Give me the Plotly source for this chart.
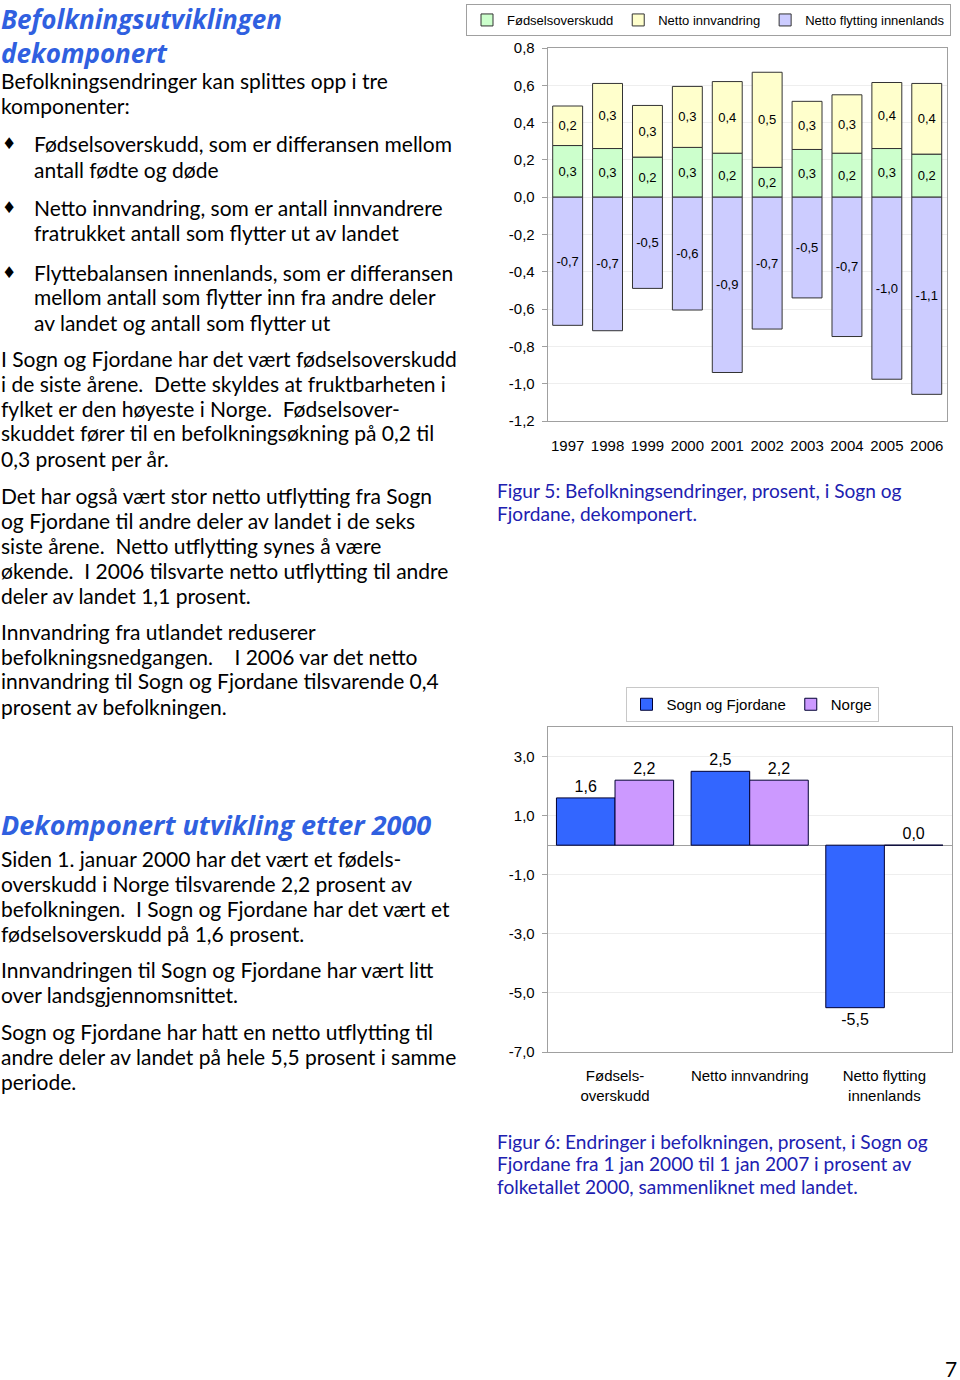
import plotly.graph_objects as go

W, H = 960, 1380


def px(x):
    return x / W


def py(y):
    return 1 - y / H


# ---------------- data: figure 5 ----------------
years = ["1997", "1998", "1999", "2000", "2001", "2002", "2003", "2004", "2005", "2006"]
fodselsoverskudd = [0.277, 0.261, 0.215, 0.267, 0.236, 0.160, 0.256, 0.236, 0.261, 0.231]
netto_innvandring = [0.212, 0.349, 0.277, 0.327, 0.384, 0.510, 0.258, 0.313, 0.354, 0.379]
netto_flytting = [-0.687, -0.716, -0.489, -0.605, -0.940, -0.707, -0.540, -0.747, -0.976, -1.057]
y1_ticks = [-1.2, -1.0, -0.8, -0.6, -0.4, -0.2, 0.0, 0.2, 0.4, 0.6, 0.8]

# ---------------- data: figure 6 ----------------
komponenter = ["Fødsels-<br>overskudd", "Netto innvandring", "Netto flytting<br>innenlands"]
sogn_og_fjordane = [1.6, 2.5, -5.5]
norge = [2.2, 2.2, 0.0]
y2_ticks = [-7, -5, -3, -1, 1, 3]


def lab(v):
    return f"{v:.1f}".replace(".", ",")


CHART_FONT = "Liberation Sans, Arial, sans-serif"
BODY_FONT = "Lato, sans-serif"
TITLE_FONT = "Open Sans, Lato, sans-serif"

fig = go.Figure()

# figure 5 bars
seg_line = dict(color="#333333", width=1)
for vals, name, col in [(fodselsoverskudd, "Fødselsoverskudd", "#CCFFCC"),
                        (netto_innvandring, "Netto innvandring", "#FFFFCC"),
                        (netto_flytting, "Netto flytting innenlands", "#CCCCFF")]:
    fig.add_trace(go.Bar(x=years, y=vals, name=name,
                         marker=dict(color=col, line=seg_line), width=0.75,
                         text=[lab(v) for v in vals], textposition="inside",
                         insidetextanchor="middle", textangle=0,
                         textfont=dict(size=13, color="black", family=CHART_FONT),
                         xaxis="x", yaxis="y", legend="legend"))

# figure 6 bars
bar2_line = dict(color="#000033", width=1)
fig.add_trace(go.Bar(x=komponenter, y=sogn_og_fjordane, name="Sogn og Fjordane",
                     marker=dict(color="#3366FF", line=bar2_line), offsetgroup="sf",
                     text=[lab(v) for v in sogn_og_fjordane], textposition="outside",
                     textangle=0, cliponaxis=False,
                     textfont=dict(size=16, color="black", family=CHART_FONT),
                     xaxis="x2", yaxis="y2", legend="legend2"))
fig.add_trace(go.Bar(x=komponenter, y=norge, name="Norge",
                     marker=dict(color="#CC99FF", line=bar2_line), offsetgroup="no",
                     text=[lab(v) for v in norge], textposition="outside",
                     textangle=0, cliponaxis=False,
                     textfont=dict(size=16, color="black", family=CHART_FONT),
                     xaxis="x2", yaxis="y2", legend="legend2"))

axis_common = dict(showline=True, mirror=True, linecolor="#A0A0A0", linewidth=1,
                   tickfont=dict(size=15, color="black", family=CHART_FONT))

fig.update_layout(
    width=W, height=H,
    margin=dict(l=0, r=0, t=0, b=0, autoexpand=False),
    paper_bgcolor="white", plot_bgcolor="white",
    barmode="relative", bargap=0.13, bargroupgap=0,
    uniformtext=dict(minsize=13, mode="show"),
    xaxis=dict(domain=[px(547.7), px(946.7)], anchor="y", type="category",
               ticks="", ticklabelstandoff=11, showgrid=False, **axis_common),
    yaxis=dict(domain=[py(421), py(48)], anchor="x", range=[-1.2, 0.8],
               tickvals=y1_ticks, ticktext=[lab(v) for v in y1_ticks],
               ticks="outside", ticklen=5, tickcolor="#A0A0A0", ticklabelstandoff=4,
               showgrid=True, gridcolor="#EEEEEE", zeroline=False, **axis_common),
    xaxis2=dict(domain=[px(547.7), px(951.7)], anchor="y2", type="category",
                ticks="", ticklabelstandoff=10, showgrid=False, **axis_common),
    yaxis2=dict(domain=[py(1052), py(727)], anchor="x2", range=[-7, 4],
                tickvals=y2_ticks, ticktext=[lab(v) for v in y2_ticks],
                ticks="outside", ticklen=5, tickcolor="#A0A0A0", ticklabelstandoff=4,
                showgrid=True, gridcolor="#EEEEEE", zeroline=True,
                zerolinecolor="#A0A0A0", zerolinewidth=1, **axis_common),
    legend=dict(orientation="h", x=px(951), xanchor="right", y=py(4), yanchor="top",
                bordercolor="#A0A0A0", borderwidth=1, bgcolor="white",
                font=dict(size=13, color="black", family=CHART_FONT),
                itemwidth=30, tracegroupgap=0),
    legend2=dict(orientation="h", x=px(752), xanchor="center", y=py(687), yanchor="top",
                 bordercolor="#C8C8C8", borderwidth=1, bgcolor="white",
                 font=dict(size=15, color="black", family=CHART_FONT),
                 itemwidth=30, tracegroupgap=0),
    showlegend=True,
)

# ---------------- page text ----------------
TITLE_BLUE = "#3060E0"
CAPTION_BLUE = "#2020B0"
BODY_SIZE = 21
TITLE_SIZE = 27


def add_line(text, x, y, size=BODY_SIZE, color="black", family=BODY_FONT, bold=False,
             italic=False, xanchor="left", yanchor="middle"):
    t = text
    if italic:
        t = f"<i>{t}</i>"
    if bold:
        t = f"<b>{t}</b>"
    fig.add_annotation(text=t, x=px(x), y=py(y), xref="paper", yref="paper",
                       xanchor=xanchor, yanchor=yanchor, showarrow=False, borderpad=0,
                       align="left", font=dict(size=size, color=color, family=family))


def add_block(lines, x, y0, step=25, **kw):
    for i, ln in enumerate(lines):
        add_line(ln, x, y0 + i * step, **kw)


title_kw = dict(size=TITLE_SIZE, color=TITLE_BLUE, family=TITLE_FONT, bold=True, italic=True)
# two-line title as one text block, top edge at the top of the page
add_line("<i><b>Befolkningsutviklingen</b></i><br><i><b>dekomponert</b></i>", 0, 0,
         size=26, color=TITLE_BLUE, family=TITLE_FONT, yanchor="top")

add_block(["Befolkningsendringer kan splittes opp i tre", "komponenter:"], 0, 80)

bullets = [
    (["Fødselsoverskudd, som er differansen mellom", "antall fødte og døde"], 144),
    (["Netto innvandring, som er antall innvandrere",
      "fratrukket antall som flytter ut av landet"], 208),
    (["Flyttebalansen innenlands, som er differansen",
      "mellom antall som flytter inn fra andre deler",
      "av landet og antall som flytter ut"], 272),
]
for lines, y0 in bullets:
    add_line("♦", 1, y0, size=16, family="DejaVu Sans")
    add_block(lines, 33, y0)

add_block(["I Sogn og Fjordane har det vært fødselsoverskudd",
           "i de siste årene.  Dette skyldes at fruktbarheten i",
           "fylket er den høyeste i Norge.  Fødselsover-",
           "skuddet fører til en befolkningsøkning på 0,2 til",
           "0,3 prosent per år."], 0, 358)
add_block(["Det har også vært stor netto utflytting fra Sogn",
           "og Fjordane til andre deler av landet i de seks",
           "siste årene.  Netto utflytting synes å være",
           "økende.  I 2006 tilsvarte netto utflytting til andre",
           "deler av landet 1,1 prosent."], 0, 495)
add_block(["Innvandring fra utlandet reduserer",
           "befolkningsnedgangen.    I 2006 var det netto",
           "innvandring til Sogn og Fjordane tilsvarende 0,4",
           "prosent av befolkningen."], 0, 631)

add_line("Dekomponert utvikling etter 2000", 0, 824, **title_kw)
add_block(["Siden 1. januar 2000 har det vært et fødels-",
           "overskudd i Norge tilsvarende 2,2 prosent av",
           "befolkningen.  I Sogn og Fjordane har det vært et",
           "fødselsoverskudd på 1,6 prosent."], 0, 858)
add_block(["Innvandringen til Sogn og Fjordane har vært litt",
           "over landsgjennomsnittet."], 0, 969)
add_block(["Sogn og Fjordane har hatt en netto utflytting til",
           "andre deler av landet på hele 5,5 prosent i samme",
           "periode."], 0, 1031)

add_block(["Figur 5: Befolkningsendringer, prosent, i Sogn og",
           "Fjordane, dekomponert."], 496, 490, step=23, size=19.1, color=CAPTION_BLUE)
add_block(["Figur 6: Endringer i befolkningen, prosent, i Sogn og",
           "Fjordane fra 1 jan 2000 til 1 jan 2007 i prosent av",
           "folketallet 2000, sammenliknet med landet."], 496, 1141, step=22.5, size=19.1,
          color=CAPTION_BLUE)

add_line("7", 951, 1368, size=21, xanchor="center")

fig.write_html("out.html", config={"displayModeBar": False},
               post_script="document.body.style.margin='0';")
